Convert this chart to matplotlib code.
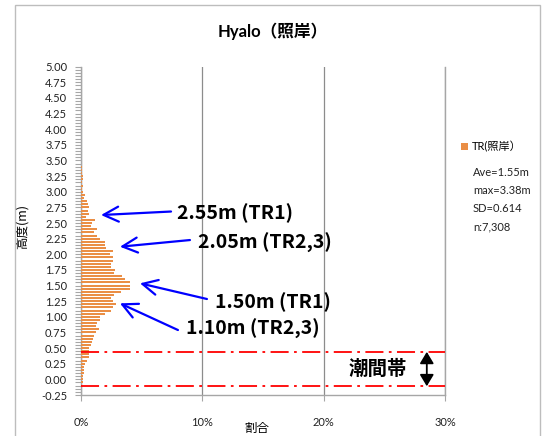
import matplotlib
matplotlib.use("Agg")
import matplotlib.pyplot as plt
from matplotlib.ticker import MultipleLocator, FuncFormatter
from matplotlib.patches import Rectangle

plt.rcParams["font.family"] = ["Lato", "Noto Sans CJK JP", "DejaVu Sans"]

# Height classes (m) and share of observations (%) in each class
heights = [3.40, 3.35, 3.30, 3.25, 3.20, 3.15, 3.10, 3.05, 3.00, 2.95,
           2.90, 2.85, 2.80, 2.75, 2.70, 2.65, 2.60, 2.55, 2.50, 2.45,
           2.40, 2.35, 2.30, 2.25, 2.20, 2.15, 2.10, 2.05, 2.00, 1.95,
           1.90, 1.85, 1.80, 1.75, 1.70, 1.65, 1.60, 1.55, 1.50, 1.45,
           1.40, 1.35, 1.30, 1.25, 1.20, 1.15, 1.10, 1.05, 1.00, 0.95,
           0.90, 0.85, 0.80, 0.75, 0.70, 0.65, 0.60, 0.55, 0.50, 0.45,
           0.40, 0.35, 0.30, 0.25, 0.20, 0.15, 0.10, 0.05, 0.00, -0.05,
           -0.10]
shares = [0.08, 0.10, 0.05, 0.15, 0.20, 0.10, 0.15, 0.10, 0.20, 0.30,
          0.25, 0.50, 0.60, 0.65, 0.60, 0.65, 0.45, 1.15, 0.88, 0.80,
          1.30, 1.05, 1.35, 1.60, 1.95, 2.00, 2.05, 2.60, 2.40, 2.60,
          2.60, 2.45, 2.45, 2.80, 2.75, 3.35, 3.60, 4.00, 4.05, 4.00,
          3.30, 2.75, 2.45, 2.60, 2.85, 2.60, 2.45, 1.95, 1.60, 1.55,
          1.30, 1.25, 1.45, 1.25, 1.10, 0.95, 0.88, 0.80, 0.70, 0.70,
          0.63, 0.65, 0.47, 0.36, 0.22, 0.27, 0.22, 0.19, 0.18, 0.14,
          0.11]

series_name = "TR(照岸）"
stats_lines = ["Ave=1.55m", "max=3.38m", "SD=0.614", "n:7,308"]

# Peak annotations: label, label anchor (share %, height), arrow tail and tip
peak_labels = ["2.55m (TR1)", "2.05m (TR2,3)", "1.50m (TR1)", "1.10m (TR2,3)"]
peak_text_xy = [(7.95, 2.66), (9.63, 2.18), (11.03, 1.24), (8.66, 0.80)]
peak_tail_xy = [(7.42, 2.684), (8.98, 2.228), (10.38, 1.285), (7.99, 0.789)]
peak_tip_xy = [(1.65, 2.628), (3.21, 2.121), (4.86, 1.536), (3.21, 1.216)]

# Intertidal zone bounds (m)
tidal_top = 0.44
tidal_bottom = -0.11

W, H = 544, 436
fig = plt.figure(figsize=(W / 100, H / 100), dpi=100)


def fx(px):
    return px / W


def fy(py):
    return 1 - py / H


# Outer chart frame
fig.patches.append(Rectangle((fx(15), fy(480)), fx(540) - fx(15), fy(5) - fy(480),
                             transform=fig.transFigure, fill=False,
                             edgecolor="#bdbdbd", linewidth=1.0))

ax = fig.add_axes([fx(81), fy(395), fx(445) - fx(81), fy(66.7) - fy(395)])

bars = ax.barh(heights, shares, height=0.032, color="#EA8E45", label=series_name,
               zorder=3)

ax.set_xlim(0, 30)
ax.set_ylim(-0.25, 5.0)

ax.xaxis.set_major_locator(MultipleLocator(10))
ax.xaxis.set_major_formatter(FuncFormatter(lambda v, p: f"{v:.0f}%"))
ax.yaxis.set_major_locator(MultipleLocator(0.25))
ax.yaxis.set_minor_locator(MultipleLocator(0.05))
ax.yaxis.set_major_formatter(FuncFormatter(lambda v, p: f"{v:.2f}"))

ax.tick_params(axis="y", which="both", direction="out", length=4, width=0.8,
               color="#a6a6a6", labelsize=8, pad=6, labelcolor="#222222")
ax.tick_params(axis="x", which="major", direction="out", length=4, width=0.8,
               color="#a6a6a6", labelsize=8, pad=12, labelcolor="#222222")

ax.grid(axis="x", color="#8c8c8c", linewidth=0.9, zorder=1)
for side in ("left", "bottom", "right"):
    ax.spines[side].set_color("#a6a6a6")
    ax.spines[side].set_linewidth(1.0)
ax.spines["top"].set_visible(False)
ax.set_facecolor("none")

# Intertidal zone bounds
for level in (tidal_top, tidal_bottom):
    ax.axhline(level, color="#FF0000", linewidth=1.3,
               dashes=(10, 3, 1.5, 3), zorder=4)

ax.annotate("", xy=(28.5, tidal_bottom), xytext=(28.5, tidal_top),
            arrowprops=dict(arrowstyle="<|-|>,head_length=0.5,head_width=0.3",
                            color="black", lw=1.3,
                            mutation_scale=14, shrinkA=0, shrinkB=0), zorder=5)
fig.text(fx(378), fy(369), "潮間帯", fontsize=14, fontweight="bold",
         family=["Noto Sans CJK JP"], ha="center", va="center")

# Peak annotations
for label, txy, tail, tip in zip(peak_labels, peak_text_xy, peak_tail_xy, peak_tip_xy):
    ax.annotate("", xy=tip, xytext=tail,
                arrowprops=dict(arrowstyle="->,head_length=0.9,head_width=0.45",
                                color="#0000FF", lw=1.6, mutation_scale=12,
                                shrinkA=0, shrinkB=0), zorder=6)
    ax.text(txy[0], txy[1], label, fontsize=14, fontweight="bold",
            family=["Noto Sans CJK JP"], ha="left", va="center", zorder=6)

# Axis titles
fig.text(fx(257), fy(428), "割合", fontsize=9, family=["Noto Sans CJK JP"],
         ha="center", va="center")
fig.text(fx(22), fy(226), "高度(m)", fontsize=9, family=["Noto Sans CJK JP"],
         ha="center", va="center", rotation=90)

fig.text(fx(273), fy(31), "Hyalo（照岸）", fontsize=12, fontweight="bold",
         family=["Lato", "Noto Sans CJK JP"], ha="center", va="center")

leg = fig.legend(handles=[bars], labels=[series_name], loc="center left",
                 bbox_to_anchor=(fx(461), fy(147)), frameon=False,
                 handlelength=0.6, handleheight=0.6, handletextpad=0.4,
                 borderpad=0, borderaxespad=0,
                 prop={"family": ["Lato", "Noto Sans CJK JP"], "size": 8})

for i, line in enumerate(stats_lines):
    fig.text(fx(473), fy(172 + 18.3 * i), line, fontsize=8, ha="left", va="center",
             color="#222222")

fig.savefig("out.png", dpi=100)
